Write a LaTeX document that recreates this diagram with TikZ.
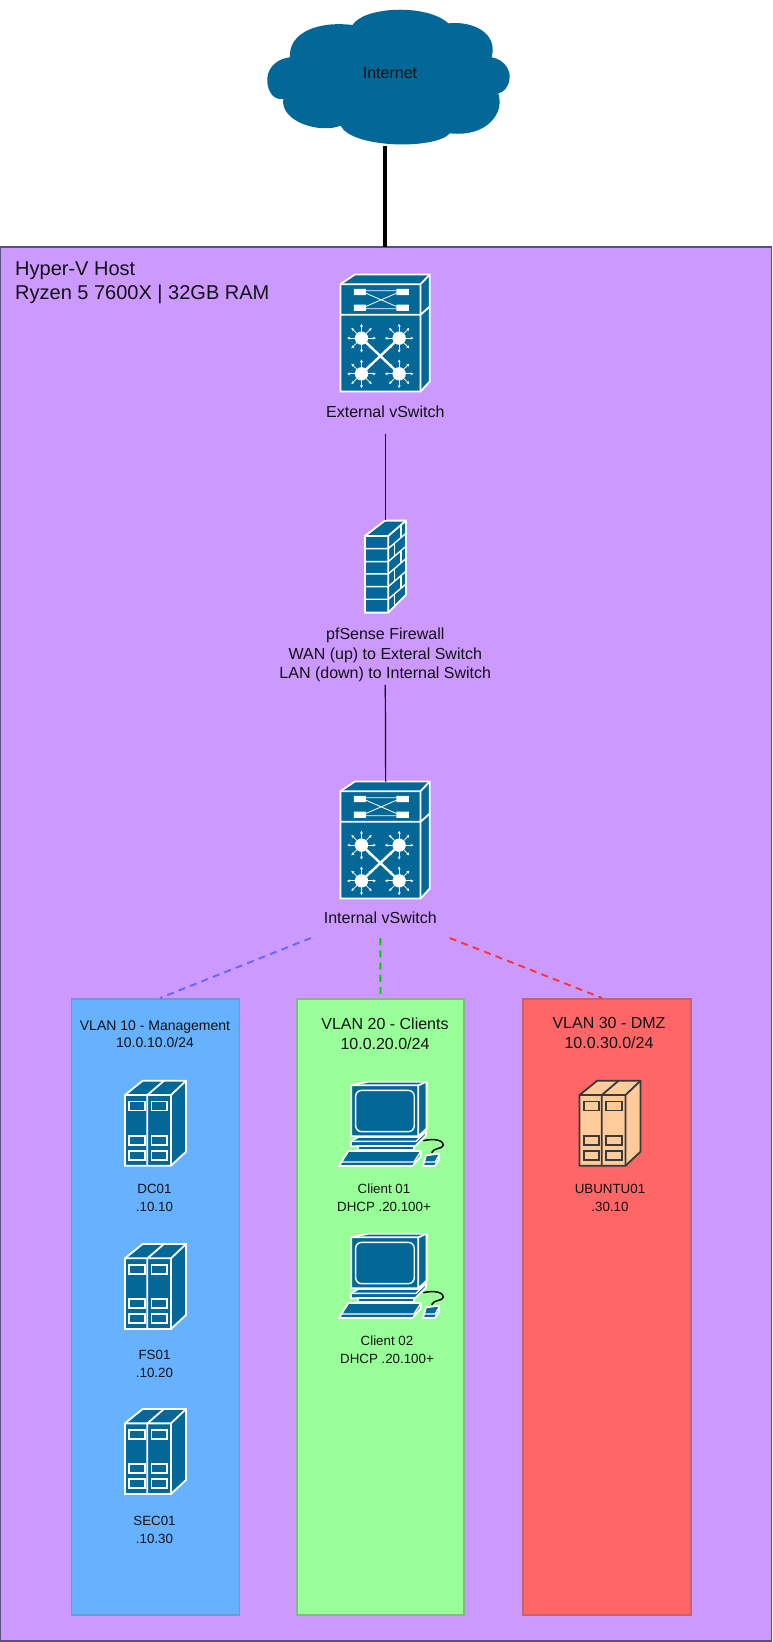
\documentclass[tikz,border=0pt]{standalone}
\usepackage{fontspec}
\setmainfont{Liberation Sans}
\usetikzlibrary{arrows.meta,calc}
\definecolor{hostfill}{HTML}{CC99FF}
\definecolor{hostline}{HTML}{56517E}
\definecolor{iconblue}{HTML}{036897}
\definecolor{vbluefill}{HTML}{66B2FF}
\definecolor{vblueline}{HTML}{6C9AD0}
\definecolor{vgreenfill}{HTML}{99FF99}
\definecolor{vgreenline}{HTML}{8AB58A}
\definecolor{vredfill}{HTML}{FF6666}
\definecolor{vredline}{HTML}{C9606F}
\definecolor{linkblue}{HTML}{6666FF}
\definecolor{linkgreen}{HTML}{00CC00}
\definecolor{linkred}{HTML}{FF3333}
\definecolor{ubfill}{HTML}{FFCC99}
\definecolor{ubline}{HTML}{36393D}
\definecolor{txt}{HTML}{111111}
\tikzset{
  lbl/.style={inner sep=0pt,outer sep=0pt,align=center,text=txt,font=\fontsize{13.33}{18}\selectfont},
  lbltitle/.style={inner sep=0pt,outer sep=0pt,align=center,text=txt,font=\fontsize{14}{17.5}\selectfont},
  lblbig/.style={inner sep=0pt,outer sep=0pt,align=center,text=txt,font=\fontsize{16}{19.5}\selectfont},
  vlanbox/.style={draw,line width=1.4pt,inner sep=0pt,outer sep=0pt,anchor=north west},
  ghost/.style={inner sep=0pt,outer sep=0pt,anchor=north west},
  iconface/.style={line join=miter,line width=1.8pt},
  iconthin/.style={line width=1.4pt},
  dashlink/.style={line width=1.9pt,dash pattern=on 7pt off 5.3pt},
  wire/.style={line width=1.2pt,black},
}
% all icon geometry is written in 1/3-pixel units
\newcommand{\switchicon}[2]{%
\begin{scope}[shift={(#1,#2)}]\begin{scope}[x=0.3333pt,y=-0.3333pt,shift={(-32,-14)}]
 \filldraw[fill=iconblue,draw=white,iconface] (32,43)--(75,14)--(300,14)--(300,335)--(272,365)--(32,365)--cycle;
 \draw[white,iconface] (32,43)--(272,43)--(300,14) (272,43)--(272,365) (32,135)--(272,135)--(300,110);
 \fill[white] (72,57) rectangle (108,76) (200,57) rectangle (237,76) (72,104) rectangle (108,123) (200,104) rectangle (237,123);
 \draw[white,line width=.8pt] (108,63)--(200,63) (108,117)--(200,117) (108,70)--(200,110) (108,110)--(200,70);
 \draw[white,line width=2.4pt] (95,205)--(208,312) (208,205)--(95,312);
 \foreach \cx/\cy in {95/205,208/205,95/312,208/312}{
  \fill[white] (\cx,\cy) circle (20);
  \foreach \a in {0,45,...,315}{
   \draw[white,line width=.8pt,-{Stealth[length=3pt,width=3pt]}] ($(\cx,\cy)+(\a:18)$)--($(\cx,\cy)+(\a:43)$);
  }
 }
\end{scope}\end{scope}}
\newcommand{\servericon}[4]{%
\begin{scope}[shift={(#1,#2)}]\begin{scope}[x=0.3333pt,y=-0.3333pt,shift={(-195,-302)}]
 \filldraw[fill=#3,draw=#4,iconface] (195,345)--(248,302)--(378,302)--(378,515)--(333,557)--(195,557)--cycle;
 \draw[#4,iconface] (195,345)--(333,345)--(378,302) (333,345)--(333,557) (262,345)--(262,557) (262,345)--(312,302);
 \foreach \sx in {207.5,274.5}{\foreach \sy in {364.5,467.5,513}{
  \draw[#4,line width=1.7pt] (\sx,\sy) rectangle ++(47,26.5);
 }}
\end{scope}\end{scope}}
\newcommand{\pcicon}[2]{%
\begin{scope}[shift={(#1,#2)}]\begin{scope}[x=0.3333pt,y=-0.3333pt,shift={(-145,-62)}]
 \draw[black,line width=1.5pt] (400,241) .. controls (440,232) and (462,243) .. (460,255) .. controls (458,266) and (430,262) .. (425,277);
 \filldraw[fill=iconblue,draw=white,iconface] (184,75)--(235,64)--(410,64)--(410,205)--(385,228)--(184,228)--cycle;
 \draw[white,iconface] (184,75)--(385,75)--(410,64) (385,75)--(385,228);
 \draw[white,iconthin,rounded corners=6pt] (197,90) rectangle (373,214);
 \filldraw[fill=iconblue,draw=white,iconface] (183,243)--(205,230)--(385,230)--(408,214)--(408,225)--(375,258)--(183,258)--cycle;
 \draw[white,iconthin] (183,243)--(378,243)--(408,214);
 \filldraw[fill=iconblue,draw=white,iconface] (205,258)--(372,258)--(372,268)--(205,268)--cycle;
 \filldraw[fill=iconblue,draw=white,iconface] (147,317)--(175,272)--(392,272)--(392,288)--(368,317)--cycle;
 \draw[white,iconthin] (150,305)--(372,305)--(392,274);
 \filldraw[fill=iconblue,draw=white,iconface] (399,317)--(408,285)--(447,280)--(447,297)--(435,317)--cycle;
 \draw[white,iconthin] (401,305)--(436,305)--(447,284);
\end{scope}\end{scope}}
\begin{document}
\begin{tikzpicture}[x=1pt,y=-1pt]
\useasboundingbox (0,0) rectangle (772,1642);
\fill[white] (0,0) rectangle (772,1642);
% host
\node[ghost,draw=hostline,fill=hostfill,line width=1.2pt,minimum width=770.8pt,minimum height=1394pt] (host) at (0.6,247) {};
\node[anchor=west,inner sep=0pt,align=left,text=txt,font=\fontsize{20}{24}\selectfont] (hostlabel) at (15,283) {Hyper-V Host\\Ryzen 5 7600X | 32GB RAM};
% cloud
\begin{scope}[x=0.3333pt,y=-0.3333pt,shift={(720,0)}]
\fill[iconblue] (150,172) .. controls (145,100) and (230,62) .. (338,75)
 .. controls (370,20) and (560,10) .. (625,70)
 .. controls (700,62) and (775,100) .. (755,172)
 .. controls (795,178) and (815,215) .. (808,240)
 .. controls (805,262) and (790,278) .. (775,280)
 .. controls (795,340) and (740,412) .. (630,400)
 .. controls (585,450) and (335,445) .. (302,377)
 .. controls (240,402) and (120,365) .. (130,297)
 .. controls (95,302) and (80,265) .. (82,235)
 .. controls (84,200) and (115,175) .. (150,172) -- cycle;
\end{scope}
\node[lblbig,minimum height=146pt] (internet) at (390,73) {Internet};
\coordinate (cloudbottom) at (385,146);
\draw[line width=3.2pt,black] (cloudbottom) -- (cloudbottom |- host.north);
% external switch
\node[ghost,minimum width=90.3pt,minimum height=117pt] (extsw) at (340.5,274.5) {};
\switchicon{340.5}{274.5}
\node[lblbig,minimum height=44pt] (extlabel) at (385.3,412) {External vSwitch};
% firewall
\node[ghost,minimum width=41pt,minimum height=93pt] (fw) at (364.8,520) {};
\begin{scope}[x=0.3333pt,y=-0.3333pt,shift={(900,1500)}]
 \filldraw[fill=iconblue,draw=white,iconface] (195,108)--(255,62)--(318,62)--(318,285)--(265,338)--(195,338)--cycle;
 \draw[white,iconface] (195,108)--(265,108)--(318,62) (265,108)--(265,338);
 \foreach \ry in {146,185,222,260,298}{
  \draw[white,iconthin] (195,\ry)--(265,\ry)--(318,\ry-46);
 }
 \foreach \ry in {146,222,298}{\draw[white,iconthin] (283,\ry-16)--(283,\ry+24);}
 \foreach \ry in {108,185,260}{\draw[white,iconthin] (303,\ry-34)--(303,\ry+4);}
\end{scope}
\draw[wire] (extlabel.south) -- (fw.north);
\node[lblbig,minimum height=60pt] (fwlabel) at (385.3,655) {pfSense Firewall\\WAN (up) to Exteral Switch\\LAN (down) to Internal Switch};
% internal switch
\node[ghost,minimum width=90.3pt,minimum height=117pt] (intsw) at (340.5,781.5) {};
\switchicon{340.5}{781.5}
\draw[wire] (fwlabel.south) -- (intsw.north);
\node[lblbig,minimum height=40pt,minimum width=139pt] (intlabel) at (380.3,918) {Internal vSwitch};
% VLAN boxes
\node[vlanbox,draw=vblueline,fill=vbluefill,minimum width=168pt,minimum height=616pt] (v10) at (71.5,999) {};
\node[vlanbox,draw=vgreenline,fill=vgreenfill,minimum width=167pt,minimum height=616pt] (v20) at (297,999) {};
\node[vlanbox,draw=vredline,fill=vredfill,minimum width=168pt,minimum height=616pt] (v30) at (523,999) {};
\coordinate (v10top) at (160,998);
\coordinate (v30top) at (602,998);
\draw[dashlink,linkblue] (intlabel.south west) -- (v10top);
\draw[dashlink,linkgreen] (intlabel.south) -- (v20.north);
\draw[dashlink,linkred] (intlabel.south east) -- (v30top);
\node[lbltitle] (v10title) at (155,1034) {VLAN 10 - Management\\10.0.10.0/24};
\node[lblbig] (v20title) at (385,1034) {VLAN 20 - Clients\\10.0.20.0/24};
\node[lblbig] (v30title) at (609,1033) {VLAN 30 - DMZ\\10.0.30.0/24};
% servers
\servericon{125}{1080.7}{iconblue}{white}
\node[lbl] (dc) at (154.5,1198) {DC01\\.10.10};
\servericon{125}{1244}{iconblue}{white}
\node[lbl] (fs) at (154.5,1364) {FS01\\.10.20};
\servericon{125}{1409}{iconblue}{white}
\node[lbl] (sec) at (154.5,1530) {SEC01\\.10.30};
\pcicon{338.3}{1081}
\node[lbl] (c1) at (384,1198) {Client 01\\DHCP .20.100+};
\pcicon{338.3}{1233}
\node[lbl] (c2) at (387,1350) {Client 02\\DHCP .20.100+};
\servericon{579.5}{1080.7}{ubfill}{ubline}
\node[lbl] (ub) at (610,1198) {UBUNTU01\\.30.10};
\end{tikzpicture}
\end{document}
